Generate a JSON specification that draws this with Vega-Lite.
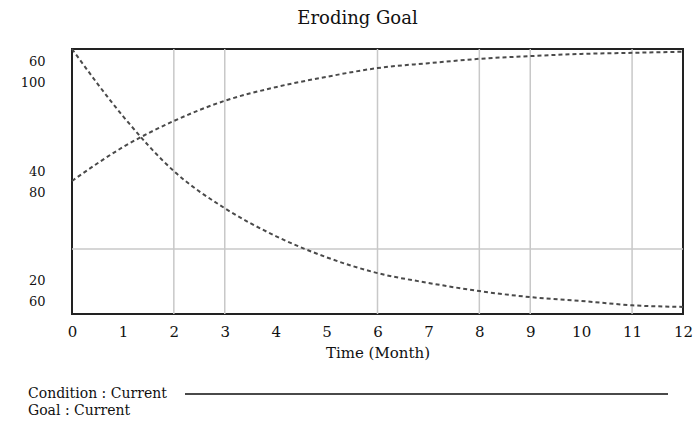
{
  "$schema": "https://vega.github.io/schema/vega-lite/v6.json",
  "width": 611,
  "height": 265,
  "padding": {"left": 10, "top": 10, "right": 8, "bottom": 5},
  "title": {"text": "Eroding Goal", "font": "DejaVu Serif", "fontSize": 18, "fontWeight": "normal", "color": "#111", "offset": 17, "dx": -20},
  "config": {
    "view": {"stroke": "#222", "strokeWidth": 2},
    "font": "DejaVu Serif"
  },
  "datasets": {
    "runs": [
      {"month": 0, "series": "Condition : Current", "value": 40.2},
      {"month": 1, "series": "Condition : Current", "value": 46.4},
      {"month": 2, "series": "Condition : Current", "value": 51.2},
      {"month": 3, "series": "Condition : Current", "value": 54.9},
      {"month": 4, "series": "Condition : Current", "value": 57.4},
      {"month": 5, "series": "Condition : Current", "value": 59.3},
      {"month": 6, "series": "Condition : Current", "value": 60.9},
      {"month": 7, "series": "Condition : Current", "value": 61.8},
      {"month": 8, "series": "Condition : Current", "value": 62.6},
      {"month": 9, "series": "Condition : Current", "value": 63.1},
      {"month": 10, "series": "Condition : Current", "value": 63.5},
      {"month": 11, "series": "Condition : Current", "value": 63.7},
      {"month": 12, "series": "Condition : Current", "value": 63.9},
      {"month": 0, "series": "Goal : Current", "value": 104.4},
      {"month": 1, "series": "Goal : Current", "value": 92.1},
      {"month": 2, "series": "Goal : Current", "value": 82.0},
      {"month": 3, "series": "Goal : Current", "value": 75.2},
      {"month": 4, "series": "Goal : Current", "value": 70.1},
      {"month": 5, "series": "Goal : Current", "value": 66.2},
      {"month": 6, "series": "Goal : Current", "value": 63.3},
      {"month": 7, "series": "Goal : Current", "value": 61.5},
      {"month": 8, "series": "Goal : Current", "value": 60.0},
      {"month": 9, "series": "Goal : Current", "value": 58.9},
      {"month": 10, "series": "Goal : Current", "value": 58.2},
      {"month": 11, "series": "Goal : Current", "value": 57.4},
      {"month": 12, "series": "Goal : Current", "value": 57.1}
    ],
    "vgrid": [{"month": 2}, {"month": 3}, {"month": 6}, {"month": 8}, {"month": 9}, {"month": 11}],
    "hgrid": [{"level": 27.7}]
  },
  "resolve": {"scale": {"y": "independent"}},
  "layer": [
    {
      "data": {"name": "vgrid"},
      "mark": {"type": "rule", "color": "#c8c8c8", "strokeWidth": 1.5},
      "encoding": {
        "x": {
          "field": "month", "type": "quantitative",
          "scale": {"domain": [0, 12], "nice": false},
          "axis": {
            "values": [0, 1, 2, 3, 4, 5, 6, 7, 8, 9, 10, 11, 12],
            "title": "Time (Month)", "grid": false, "ticks": false, "domain": false,
            "labelFont": "DejaVu Serif", "labelFontSize": 15, "labelColor": "#111",
            "labelPadding": 10, "labelFlush": false,
            "titleFont": "DejaVu Serif", "titleFontSize": 15, "titleFontWeight": "normal",
            "titleColor": "#111", "titlePadding": 6
          }
        }
      }
    },
    {
      "data": {"name": "hgrid"},
      "mark": {"type": "rule", "color": "#c8c8c8", "strokeWidth": 1.5},
      "encoding": {
        "y": {
          "field": "level", "type": "quantitative",
          "scale": {"domain": [15.8, 64.4], "nice": false, "zero": false},
          "axis": {
            "values": [20, 40, 60],
            "labelExpr": "[datum.label, format(datum.value + 40, 'd')]",
            "title": null, "grid": false, "ticks": false, "domain": false,
            "labelFont": "DejaVu Serif", "labelFontSize": 13, "labelColor": "#111",
            "labelLineHeight": 21, "labelPadding": 27, "labelOffset": -11
          }
        }
      }
    },
    {
      "data": {"name": "runs"},
      "transform": [{"filter": "datum.series === 'Condition : Current'"}],
      "mark": {"type": "line", "strokeDash": [4, 3], "strokeWidth": 2, "interpolate": "monotone"},
      "encoding": {
        "x": {"field": "month", "type": "quantitative"},
        "y": {"field": "value", "type": "quantitative", "scale": {"domain": [15.8, 64.4], "nice": false, "zero": false}, "axis": null},
        "color": {
          "field": "series", "type": "nominal",
          "scale": {"range": ["#4a4a4a", "#4a4a4a"]},
          "legend": {
            "title": null, "orient": "none", "legendX": -62, "legendY": 338,
            "padding": 0, "rowPadding": 3,
            "symbolType": "M 28 0 L 108.5 0", "symbolSize": 144,
            "symbolStrokeWidth": 2, "symbolDash": [], "symbolFillColor": "transparent",
            "labelFont": "DejaVu Serif", "labelFontSize": 14, "labelColor": "#111", "labelOffset": 4,
            "encode": {"symbols": {"update": {"strokeOpacity": {"signal": "datum.value === 'Goal : Current' ? 0 : 1"}}}}
          }
        }
      }
    },
    {
      "data": {"name": "runs"},
      "transform": [{"filter": "datum.series === 'Goal : Current'"}],
      "mark": {"type": "line", "strokeDash": [4, 3], "strokeWidth": 2, "interpolate": "monotone"},
      "encoding": {
        "x": {"field": "month", "type": "quantitative"},
        "y": {"field": "value", "type": "quantitative", "scale": {"domain": [55.8, 104.4], "nice": false, "zero": false}, "axis": null},
        "color": {"field": "series", "type": "nominal"}
      }
    }
  ]
}
